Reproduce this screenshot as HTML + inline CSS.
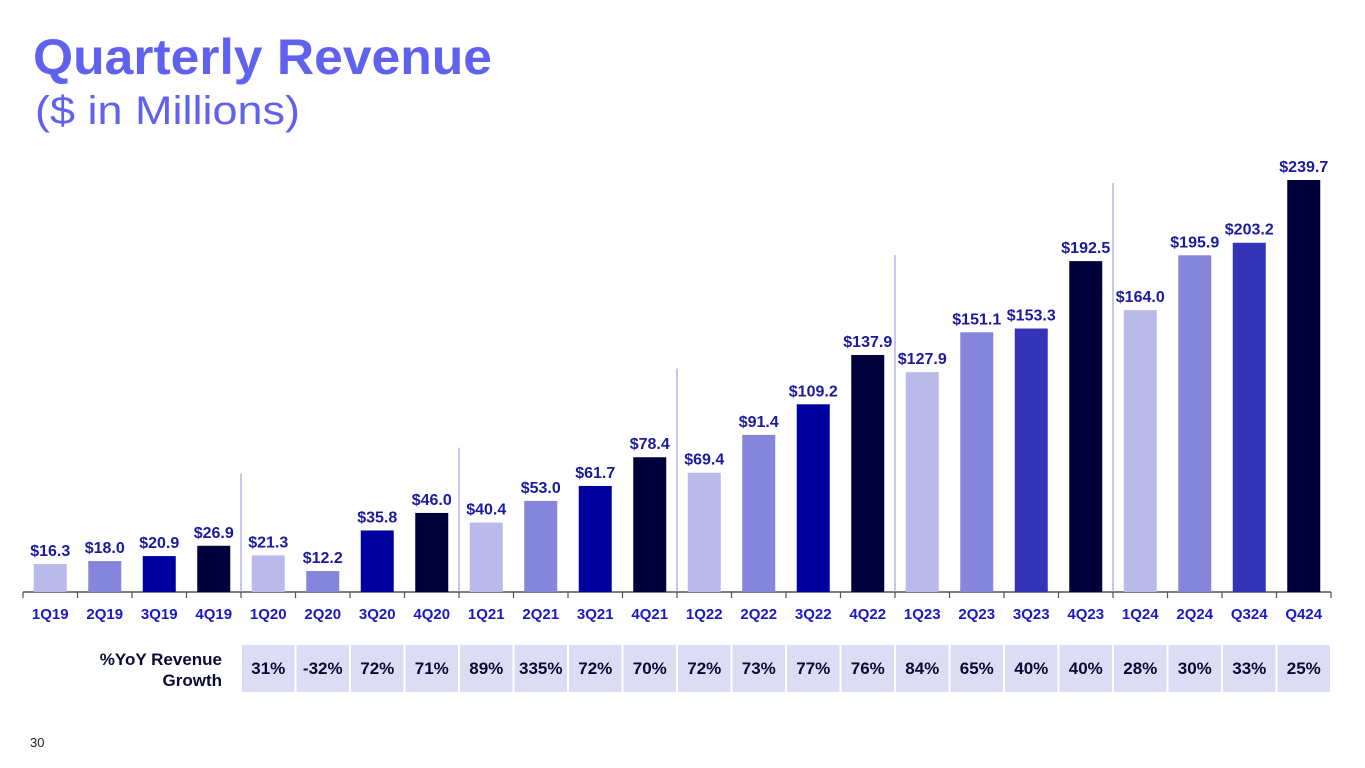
<!DOCTYPE html>
<html><head><meta charset="utf-8"><style>
html,body{margin:0;padding:0;background:#fff;width:1365px;height:768px;overflow:hidden}
svg{display:block}
</style></head><body>
<svg id="chart" width="1365" height="768" viewBox="0 0 1365 768" xmlns="http://www.w3.org/2000/svg" font-family="Liberation Sans, sans-serif">
<text x="33" y="74" font-size="50" font-weight="bold" fill="#6161f0" textLength="459" lengthAdjust="spacingAndGlyphs">Quarterly Revenue</text>
<text x="35" y="124" font-size="40" fill="#6161f0" textLength="265" lengthAdjust="spacingAndGlyphs">($ in Millions)</text>
<text x="30" y="747" font-size="13" fill="#222">30</text>
<text text-anchor="end" font-size="17" font-weight="bold" fill="#0a0a35"><tspan x="222" y="665">%YoY Revenue</tspan><tspan x="222" y="686">Growth</tspan></text>
<g id="marks"></g>
</svg>
<script>
const categories=["1Q19","2Q19","3Q19","4Q19","1Q20","2Q20","3Q20","4Q20","1Q21","2Q21","3Q21","4Q21","1Q22","2Q22","3Q22","4Q22","1Q23","2Q23","3Q23","4Q23","1Q24","2Q24","Q324","Q424"];
const revenue=[16.3,18.0,20.9,26.9,21.3,12.2,35.8,46.0,40.4,53.0,61.7,78.4,69.4,91.4,109.2,137.9,127.9,151.1,153.3,192.5,164.0,195.9,203.2,239.7];
const growthLabels=["31%","-32%","72%","71%","89%","335%","72%","70%","72%","73%","77%","76%","84%","65%","40%","40%","28%","30%","33%","25%"];
const dividerTops=[69,84,130,196,238];

const NS="http://www.w3.org/2000/svg";
const g=document.getElementById('marks');
const x0=23,slot=54.5,base=592,pxPerUnit=412/239.7,barW=33;
const xPos=i=>x0+i*slot;
const yPos=v=>base-v*pxPerUnit;
function colorFor(i){
  const q=i%4;
  if(q===0)return "#b9b9ea";
  if(q===1)return "#8585dc";
  if(q===3)return "#00003a";
  return i>=16?"#3434b8":"#0000a0";
}
function mk(tag,attrs){const e=document.createElementNS(NS,tag);for(const k in attrs)e.setAttribute(k,attrs[k]);g.appendChild(e);return e;}
let ax=mk('line',{x1:x0,x2:xPos(categories.length),y1:base,y2:base,stroke:'#555','stroke-width':1.5});


for(let i=0;i<=categories.length;i++){
  const t=mk('line',{x1:xPos(i),x2:xPos(i),y1:base,y2:base+6,stroke:'#555','stroke-width':1.2});
  
  
}
dividerTops.forEach((v,k)=>{
  const xi=xPos(4*(k+1));
  const d=mk('line',{x1:xi,x2:xi,y1:yPos(v),y2:base,stroke:'#8f8fe6','stroke-width':1});
  
  
});
categories.forEach((c,i)=>{
  const cx=xPos(i)+slot/2;
  const v=revenue[i];
  const r=mk('rect',{x:cx-barW/2,y:yPos(v),width:barW,height:v*pxPerUnit,fill:colorFor(i)});
  
  
  const lb=mk('text',{x:cx,y:yPos(v)-8,'text-anchor':'middle','font-size':16,'font-weight':'bold',fill:'#1a1a9c'});
  lb.textContent='$'+v.toFixed(1);
  
  
  const cl=mk('text',{x:cx,y:619,'text-anchor':'middle','font-size':15,'font-weight':'bold',fill:'#1a1ac2'});
  cl.textContent=c;
  
  
});
growthLabels.forEach((s,k)=>{
  const i=k+4;
  const c=mk('rect',{x:xPos(i)+1,y:645,width:slot-2,height:47,fill:'#dcdcf4'});
  
  
  const t=mk('text',{x:xPos(i)+slot/2,y:674,'text-anchor':'middle','font-size':17,'font-weight':'bold',fill:'#0a0a35'});
  t.textContent=s;
  
  
});
</script>
</body></html>
